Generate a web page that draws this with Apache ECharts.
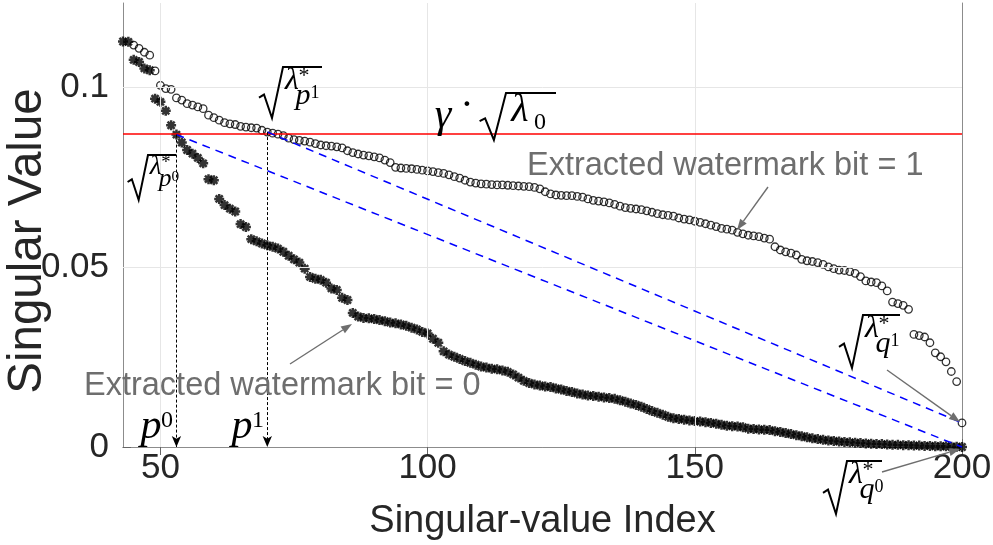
<!DOCTYPE html>
<html>
<head>
<meta charset="utf-8">
<script src="https://cdn.jsdelivr.net/npm/echarts@6/dist/echarts.min.js"></script>
<style>
  html, body { margin: 0; padding: 0; background: #fff; }
  #chart { width: 993px; height: 545px; }
</style>
</head>
<body>
<div id="chart"></div>
<script>
// singular-value index of the first entry in each value list
const firstIndex = 43;

// extracted watermark bit = 1 (open circles), index 43..200
const bit1Values = [
  null, null, 0.1118, 0.1109, 0.1098, 0.1090, 0.1046,                            // 43-49
  0.1006, 0.0997, 0.0995, 0.0971, 0.0965, 0.0955, 0.0951, 0.0946, 0.0941, 0.0923, // 50-59
  0.0916, 0.0909, 0.0902, 0.0899, 0.0897, 0.0892, 0.0890, 0.0888, 0.0887, 0.0881, // 60-69
  0.0876, 0.0873, 0.0870, 0.0866, 0.0859, 0.0855, 0.0853, 0.0851, 0.0848, 0.0844, // 70-79
  0.0840, 0.0838, 0.0837, 0.0835, 0.0832, 0.0824, 0.0819, 0.0815, 0.0812, 0.0810, // 80-89
  0.0807, 0.0804, 0.0798, 0.0791, 0.0778, 0.0776, 0.0775, 0.0774, 0.0772, 0.0770, // 90-99
  0.0768, 0.0766, 0.0763, 0.0761, 0.0757, 0.0752, 0.0748, 0.0742, 0.0737, 0.0734, // 100-109
  0.0732, 0.0731, 0.0730, 0.0729, 0.0729, 0.0728, 0.0727, 0.0726, 0.0725, 0.0724, // 110-119
  0.0722, 0.0718, 0.0710, 0.0704, 0.0701, 0.0700, 0.0699, 0.0699, 0.0697, 0.0695, // 120-129
  0.0690, 0.0686, 0.0684, 0.0682, 0.0679, 0.0675, 0.0670, 0.0666, 0.0664, 0.0662, // 130-139
  0.0660, 0.0657, 0.0653, 0.0649, 0.0646, 0.0644, 0.0642, 0.0637, 0.0634, 0.0632, // 140-149
  0.0628, 0.0625, 0.0621, 0.0617, 0.0613, 0.0608, 0.0606, 0.0603, 0.0597, 0.0593, // 150-159
  0.0589, 0.0587, 0.0585, 0.0581, 0.0578, 0.0557, 0.0548, 0.0543, 0.0539, 0.0534, // 160-169
  0.0522, 0.0518, 0.0516, 0.0513, 0.0508, 0.0501, 0.0496, 0.0492, 0.0491, 0.0488, // 170-179
  0.0483, 0.0474, 0.0462, 0.0459, 0.0457, 0.0448, 0.0434, 0.0403, 0.0399, 0.0394, // 180-189
  0.0383, 0.0313, 0.0310, 0.0306, 0.0290, 0.0262, 0.0251, 0.0237, 0.0210, 0.0182, // 190-199
  0.0067                                                                          // 200
];

// extracted watermark bit = 0 (asterisks), index 43..200
const bit0Values = [
  0.1128, 0.1127, 0.1077, 0.1071, 0.1053, 0.1048, 0.0969,                         // 43-49
  0.0960, 0.0935, 0.0895, 0.0869, 0.0847, 0.0826, 0.0816, 0.0804, 0.0789, 0.0745, // 50-59
  0.0742, 0.0690, 0.0673, 0.0663, 0.0655, 0.0620, 0.0612, 0.0578, 0.0572, 0.0566, // 60-69
  0.0561, 0.0557, 0.0552, 0.0543, 0.0532, 0.0522, 0.0513, 0.0496, 0.0473, 0.0468, // 70-79
  0.0465, 0.0457, 0.0441, 0.0437, 0.0415, 0.0409, 0.0373, 0.0363, 0.0359, 0.0358, // 80-89
  0.0356, 0.0353, 0.0350, 0.0346, 0.0344, 0.0341, 0.0337, 0.0332, 0.0327, 0.0320, // 90-99
  0.0316, 0.0301, 0.0290, 0.0266, 0.0257, 0.0251, 0.0245, 0.0239, 0.0234, 0.0229, // 100-109
  0.0224, 0.0221, 0.0218, 0.0216, 0.0213, 0.0209, 0.0202, 0.0193, 0.0184, 0.0178, // 110-119
  0.0174, 0.0171, 0.0168, 0.0167, 0.0163, 0.0160, 0.0156, 0.0153, 0.0149, 0.0146, // 120-129
  0.0143, 0.0142, 0.0140, 0.0138, 0.0136, 0.0134, 0.0130, 0.0126, 0.0121, 0.0117, // 130-139
  0.0112, 0.0106, 0.0100, 0.0095, 0.0090, 0.0084, 0.0080, 0.0078, 0.0076, 0.0074, // 140-149
  0.0072, 0.0071, 0.0069, 0.0067, 0.0065, 0.0062, 0.0059, 0.0058, 0.0057, 0.0055, // 150-159
  0.0051, 0.0050, 0.0049, 0.0048, 0.0047, 0.0044, 0.0042, 0.0039, 0.0036, 0.0033, // 160-169
  0.0030, 0.0027, 0.0024, 0.0022, 0.0020, 0.0018, 0.0017, 0.0015, 0.0014, 0.0013, // 170-179
  0.0012, 0.0011, 0.0010, 0.0009, 0.0008, 0.0008, 0.0007, 0.0006, 0.0006, 0.0005, // 180-189
  0.0005, 0.0004, 0.0004, 0.0003, 0.0003, 0.0002, 0.0002, 0.0002, 0.0001, 0.0001, // 190-199
  0.0000                                                                          // 200
];

const xTicks = [50, 100, 150, 200];
const yTicks = [0, 0.05, 0.1];

const threshold = 0.0871;   // gamma * sqrt(lambda_0)
const p0 = 53;
const p1 = 70;
const qEnd = 200;

const SANS = '"Liberation Sans", Arial, sans-serif';
const SERIF = '"Liberation Serif", "Times New Roman", serif';
const GRAY = '#6e6e6e';
const INK = '#262626';

const toPoints = vals => vals
  .map((v, k) => [firstIndex + k, v])
  .filter(p => p[1] !== null);
const valueAt = (vals, idx) => vals[idx - firstIndex];

// MATLAB-style '*' marker, drawn heavy like the exported figure
const starPath = 'path://M-1.5 -6L1.5 -6L1.5 6L-1.5 6Z M-6 -1.5L6 -1.5L6 1.5L-6 1.5Z ' +
  'M-5.3 -3.2L-3.2 -5.3L5.3 3.2L3.2 5.3Z M3.2 -5.3L5.3 -3.2L-3.2 5.3L-5.3 3.2Z';

// ---- annotation helpers (pixel layout) ----
function txt(str, x, y, size, o) {
  o = o || {};
  return {
    type: 'text', x: x, y: y, z: 100, silent: true, rotation: o.rotation || 0,
    style: {
      text: str, fontSize: size, fontFamily: o.family || SERIF,
      fontStyle: o.italic ? 'italic' : 'normal', fill: o.color || '#000',
      align: o.align || 'center', verticalAlign: 'middle'
    }
  };
}

function radical(vx, vy, vw, h, s) {
  return {
    type: 'polyline', z: 100, silent: true,
    shape: { points: [[vx - 24 * s, vy + 0.6 * h], [vx - 19 * s, vy + 0.54 * h],
                      [vx - 11 * s, vy + h], [vx, vy], [vx + vw, vy]] },
    style: { stroke: '#000', lineWidth: 2, fill: null, lineJoin: 'miter' }
  };
}

function sqrtLambda(vx, vy, vw, h, s, letter, digit) {
  return [
    radical(vx, vy, vw, h, s),
    txt('λ', vx + 9 * s, vy + 14 * s, 32 * s, { italic: true }),
    txt('*', vx + 21 * s, vy + 9 * s, 22 * s),
    txt(letter, vx + 20 * s, vy + 29 * s, 30 * s, { italic: true }),
    txt(digit, vx + 32 * s, vy + 26 * s, 18 * s)
  ];
}

function arrow(x1, y1, x2, y2, color) {
  const a = Math.atan2(y2 - y1, x2 - x1), L = 11, W = 4;
  const bx = x2 - L * Math.cos(a), by = y2 - L * Math.sin(a);
  const nx = -Math.sin(a) * W, ny = Math.cos(a) * W;
  return [
    { type: 'line', z: 100, silent: true, shape: { x1: x1, y1: y1, x2: bx, y2: by },
      style: { stroke: color, lineWidth: 1.4 } },
    { type: 'polygon', z: 100, silent: true,
      shape: { points: [[x2, y2], [bx + nx, by + ny], [bx - nx, by - ny]] },
      style: { fill: color } }
  ];
}

const annotations = [].concat(
  // y-axis title
  [txt('Singular Value', 28, 241, 47.5, { family: SANS, color: INK, rotation: Math.PI / 2 })],
  // gamma * sqrt(lambda_0)
  [txt('γ', 443, 116, 42, { italic: true }), txt('·', 467, 106, 40)],
  [radical(506, 93, 50, 47, 1.1)],
  [txt('λ', 520, 110, 40, { italic: true }), txt('0', 540, 123, 24)],
  sqrtLambda(283, 67, 39, 51, 1, 'p', '1'),
  sqrtLambda(148, 155, 28, 45, 0.85, 'p', '0'),
  sqrtLambda(863, 315, 37, 53, 1.0, 'q', '1'),
  sqrtLambda(847, 461, 35, 53, 1.0, 'q', '0'),
  // p^0 / p^1 labels
  [txt('p', 151, 427, 42, { italic: true }), txt('0', 167, 421, 24)],
  [txt('p', 242, 427, 42, { italic: true }), txt('1', 258, 421, 24)],
  // captions
  [txt('Extracted watermark bit = 1', 527, 166, 32.5, { family: SANS, color: GRAY, align: 'left' }),
   txt('Extracted watermark bit = 0', 84, 386, 32.5, { family: SANS, color: GRAY, align: 'left' })],
  arrow(768, 187, 737, 230, GRAY),
  arrow(290, 364, 352, 324, GRAY),
  arrow(887, 370, 960, 422, GRAY),
  arrow(882, 472, 960, 449, GRAY)
);

// ---- reference lines ----
const gridLines = xTicks.filter(v => v > 43 && v < 200).map(v => ({ xAxis: v }))
  .concat(yTicks.filter(v => v > 0).map(v => ({ yAxis: v })));

const blue = { color: '#0000ff', width: 1.5, type: [8, 6] };
const drop = { color: '#000', width: 1, type: [3, 2] };
const guideLines = [
  { yAxis: threshold, lineStyle: { color: '#ff0000', width: 1.5, type: 'solid' } },
  [{ coord: [p1, valueAt(bit1Values, p1)], lineStyle: blue },
   { coord: [qEnd, valueAt(bit1Values, qEnd)] }],
  [{ coord: [p0, valueAt(bit0Values, p0)], lineStyle: blue },
   { coord: [qEnd, valueAt(bit0Values, qEnd)] }],
  [{ coord: [p0, valueAt(bit0Values, p0)], lineStyle: drop },
   { coord: [p0, 0], symbol: 'arrow', symbolSize: [7, 11] }],
  [{ coord: [p1, valueAt(bit1Values, p1)], lineStyle: drop },
   { coord: [p1, 0], symbol: 'arrow', symbolSize: [7, 11] }]
];

const axisFont = { fontSize: 35, color: INK, fontFamily: SANS };
const frame = { show: true, lineStyle: { color: '#8c8c8c', width: 1 } };

const chart = echarts.init(document.getElementById('chart'));
chart.setOption({
  animation: false,
  backgroundColor: '#fff',
  grid: { left: 123, right: 31, top: 3, bottom: 98, containLabel: false, outerBoundsMode: 'none' },
  xAxis: [
    { type: 'value', min: 43, max: 200, position: 'bottom',
      axisLine: frame, splitLine: { show: false },
      axisTick: { inside: true, length: 8, customValues: xTicks, lineStyle: { color: '#666' } },
      axisLabel: Object.assign({ customValues: xTicks, margin: 4 }, axisFont),
      name: 'Singular-value Index', nameLocation: 'middle', nameGap: 56,
      nameTextStyle: { fontSize: 38, color: INK, fontFamily: SANS } },
    { type: 'value', min: 43, max: 200, position: 'top',
      axisLine: frame, splitLine: { show: false },
      axisTick: { inside: true, length: 8, customValues: xTicks, lineStyle: { color: '#666' } },
      axisLabel: { show: false } }
  ],
  yAxis: [
    { type: 'value', min: 0, max: 0.1235, position: 'left',
      axisLine: frame, splitLine: { show: false },
      axisTick: { inside: true, length: 8, customValues: yTicks, lineStyle: { color: '#666' } },
      axisLabel: Object.assign({ customValues: yTicks, margin: 14 }, axisFont) },
    { type: 'value', min: 0, max: 0.1235, position: 'right',
      axisLine: frame, splitLine: { show: false },
      axisTick: { inside: true, length: 8, customValues: yTicks, lineStyle: { color: '#666' } },
      axisLabel: { show: false } }
  ],
  series: [
    { type: 'line', data: [], z: 1, silent: true,
      markLine: { silent: true, symbol: 'none', precision: 6, label: { show: false }, animation: false,
        lineStyle: { color: '#e6e6e6', width: 1, type: 'solid' }, data: gridLines } },
    { name: 'bit = 1', type: 'scatter', z: 3, data: toPoints(bit1Values),
      symbol: 'circle', symbolSize: 7.5,
      itemStyle: { color: 'rgba(0,0,0,0)', borderColor: '#000', borderWidth: 1.3 } },
    { name: 'bit = 0', type: 'scatter', z: 4, data: toPoints(bit0Values),
      symbol: starPath, symbolSize: 10, itemStyle: { color: '#000' } },
    { type: 'line', data: [], z: 5, silent: true,
      markLine: { silent: true, symbol: 'none', precision: 6, label: { show: false }, animation: false,
        emphasis: { disabled: true }, data: guideLines } }
  ],
  graphic: { elements: annotations }
});
</script>
</body>
</html>
